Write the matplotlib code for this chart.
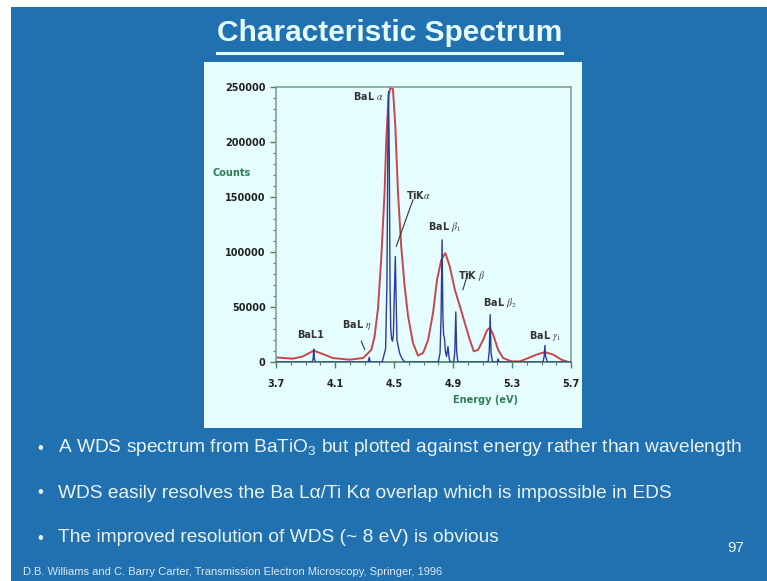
import numpy as np
import matplotlib
matplotlib.use("Agg")
import matplotlib.pyplot as plt
from matplotlib.patches import Rectangle
from matplotlib.ticker import MultipleLocator

plt.rcParams['mathtext.fontset'] = 'stix'

# EDS spectrum (red): energy (eV scale as labelled), counts
eds_energy = [3.700, 3.813, 3.881, 3.956, 4.028, 4.085, 4.198, 4.289, 4.312, 4.346,
              4.368, 4.391, 4.413, 4.436, 4.447, 4.463, 4.477, 4.493, 4.509, 4.527,
              4.549, 4.572, 4.595, 4.629, 4.663, 4.697, 4.731, 4.765, 4.792, 4.821,
              4.848, 4.878, 4.912, 4.946, 4.980, 5.014, 5.041, 5.070, 5.104, 5.131,
              5.150, 5.172, 5.206, 5.240, 5.297, 5.353, 5.410, 5.467, 5.523, 5.580,
              5.637, 5.670]
eds_counts = [4200, 3000, 5000, 10300, 6700, 3600, 2100, 3600, 6400, 11000,
              23000, 48000, 93000, 154000, 200000, 242000, 250000, 248000, 214000, 154000,
              105000, 69000, 42000, 17000, 5800, 8200, 20000, 45000, 75000, 93000,
              99000, 87000, 66000, 51000, 35500, 20000, 9700, 11000, 20000, 29000,
              31000, 25000, 11000, 3600, 600, 600, 3600, 6700, 9000, 6700,
              2000, 600]

# WDS spectrum (blue)
wds_energy = [3.700, 3.945, 3.952, 3.956, 3.960, 3.967, 4.325, 4.332, 4.339, 4.420,
              4.443, 4.452, 4.458, 4.463, 4.468, 4.473, 4.478, 4.484, 4.490, 4.496,
              4.501, 4.509, 4.514, 4.520, 4.538, 4.555, 4.572, 4.800, 4.812, 4.819,
              4.826, 4.831, 4.836, 4.842, 4.848, 4.856, 4.866, 4.874, 4.882, 4.905,
              4.912, 4.919, 4.925, 4.933, 5.138, 5.146, 5.152, 5.158, 5.168, 5.200,
              5.206, 5.212, 5.510, 5.518, 5.523, 5.528, 5.540, 5.700]
wds_counts = [0, 0, 3000, 11800, 3000, 0, 0, 4200, 0, 0,
              12000, 70000, 190000, 246000, 185000, 70000, 30000, 21000, 19000, 25000,
              55000, 96000, 60000, 20000, 8000, 3000, 0, 0, 8000, 40000,
              111000, 45000, 25000, 22000, 10000, 5000, 14000, 3000, 0, 0,
              9000, 45500, 9000, 0, 0, 10000, 43000, 8000, 0, 0,
              2700, 0, 0, 5000, 15000, 5000, 0, 0]

# peak labels: text, x, y
peak_labels = [
    (r'BaL1', 3.933, 25000),
    (r'BaL $\eta$', 4.248, 34000),
    (r'BaL $\alpha$', 4.33, 242000),
    (r'TiK$\alpha$', 4.668, 152000),
    (r'BaL $\beta_1$', 4.846, 122500),
    (r'TiK $\beta$', 5.028, 78600),
    (r'BaL $\beta_2$', 5.215, 53700),
    (r'BaL $\gamma_1$', 5.523, 24000),
]
# leader lines: (x_text, y_text) -> (x_tip, y_tip)
leaders = [
    ((4.278, 19000), (4.302, 11200)),
    ((4.629, 147600), (4.515, 105000)),
    ((5.001, 80800), (4.967, 65600)),
]

bullets = [
    'A WDS spectrum from BaTiO$_3$ but plotted against energy rather than wavelength',
    'WDS easily resolves the Ba L\u03b1/Ti K\u03b1 overlap which is impossible in EDS',
    'The improved resolution of WDS (~ 8 eV) is obvious',
]

W, H = 767, 581
fig = plt.figure(figsize=(W / 100, H / 100), dpi=100)
fig.patch.set_facecolor('white')

# slide background and chart panel
fig.patches.append(Rectangle((11 / W, 0), 1, (H - 7) / H, transform=fig.transFigure,
                             facecolor='#2170b0', edgecolor='none', zorder=0))
fig.patches.append(Rectangle((204 / W, (H - 428) / H), 378 / W, 366 / H,
                             transform=fig.transFigure, facecolor='#e6fdff',
                             edgecolor='none', zorder=0))

sans = ['Liberation Sans', 'DejaVu Sans']
fig.text(390 / W, 1 - 33 / H, 'Characteristic Spectrum', ha='center', va='center',
         fontsize=21.5, fontweight='bold', color='#e4fbff', family=sans)
fig.lines.append(plt.Line2D([217 / W, 562 / W], [1 - 53 / H, 1 - 53 / H],
                            transform=fig.transFigure, color='#e4fbff', lw=2.2))

ax = fig.add_axes([276 / W, (H - 362) / H, 295 / W, 275 / H])
ax.set_zorder(2)
ax.set_facecolor('#e6fdff')
ax.plot(eds_energy, eds_counts, color='#c8464a', lw=1.4, zorder=2)
ax.plot(wds_energy, wds_counts, color='#2c3c9c', lw=1.0, zorder=3)

ax.set_xlim(3.7, 5.7)
ax.set_ylim(0, 250000)
ax.set_xticks([3.7, 4.1, 4.5, 4.9, 5.3, 5.7])
ax.xaxis.set_minor_locator(MultipleLocator(0.1))
ax.set_yticks(np.arange(0, 250001, 50000))
ax.yaxis.set_minor_locator(MultipleLocator(10000))
ax.tick_params(axis='both', which='major', labelsize=7, colors='#4f7d62',
               labelcolor='#222222', length=4, width=1)
ax.tick_params(axis='both', which='minor', colors='#4f7d62', length=2.5, width=0.8)
ax.tick_params(axis='x', pad=8)
for lab in ax.get_xticklabels() + ax.get_yticklabels():
    lab.set_fontweight('bold')
for s in ax.spines.values():
    s.set_color('#7fa58f')
    s.set_linewidth(1.2)
ax.spines['bottom'].set_color('#4f7d62')

for txt, x, y in peak_labels:
    ax.text(x, y, txt, ha='center', va='center', fontsize=7, fontweight='bold',
            color='#333333')
for (x0, y0), (x1, y1) in leaders:
    ax.annotate('', xy=(x1, y1), xytext=(x0, y0),
                arrowprops=dict(arrowstyle='-', color='#333333', lw=0.8,
                                shrinkA=0, shrinkB=0))

fig.text(232 / W, 1 - 173 / H, 'Counts', ha='center', va='center', fontsize=7,
         fontweight='bold', color='#2e7d56')
fig.text(486 / W, 1 - 400 / H, 'Energy (eV)', ha='center', va='center', fontsize=7,
         fontweight='bold', color='#2e7d56')

plt.rcParams['mathtext.fontset'] = 'custom'
plt.rcParams['mathtext.rm'] = 'Liberation Sans'
for i, b in enumerate(bullets):
    y = 1 - (448 + 45 * i) / H
    fig.text(40 / W, y, '\u2022', ha='center', va='center', fontsize=12,
             color='#e8f4fa', family=sans)
    fig.text(58 / W, y, b, ha='left', va='center', fontsize=13.8,
             color='#e8f4fa', family=sans)

fig.text(736 / W, 1 - 548 / H, '97', ha='center', va='center', fontsize=11,
         color='#e8f4fa', family=sans)
fig.text(23 / W, 1 - 572 / H,
         'D.B. Williams and C. Barry Carter, Transmission Electron Microscopy, Springer, 1996',
         ha='left', va='center', fontsize=8, color='#dbe9f5', family=sans)

fig.savefig('out.png', dpi=100, facecolor=fig.get_facecolor())
